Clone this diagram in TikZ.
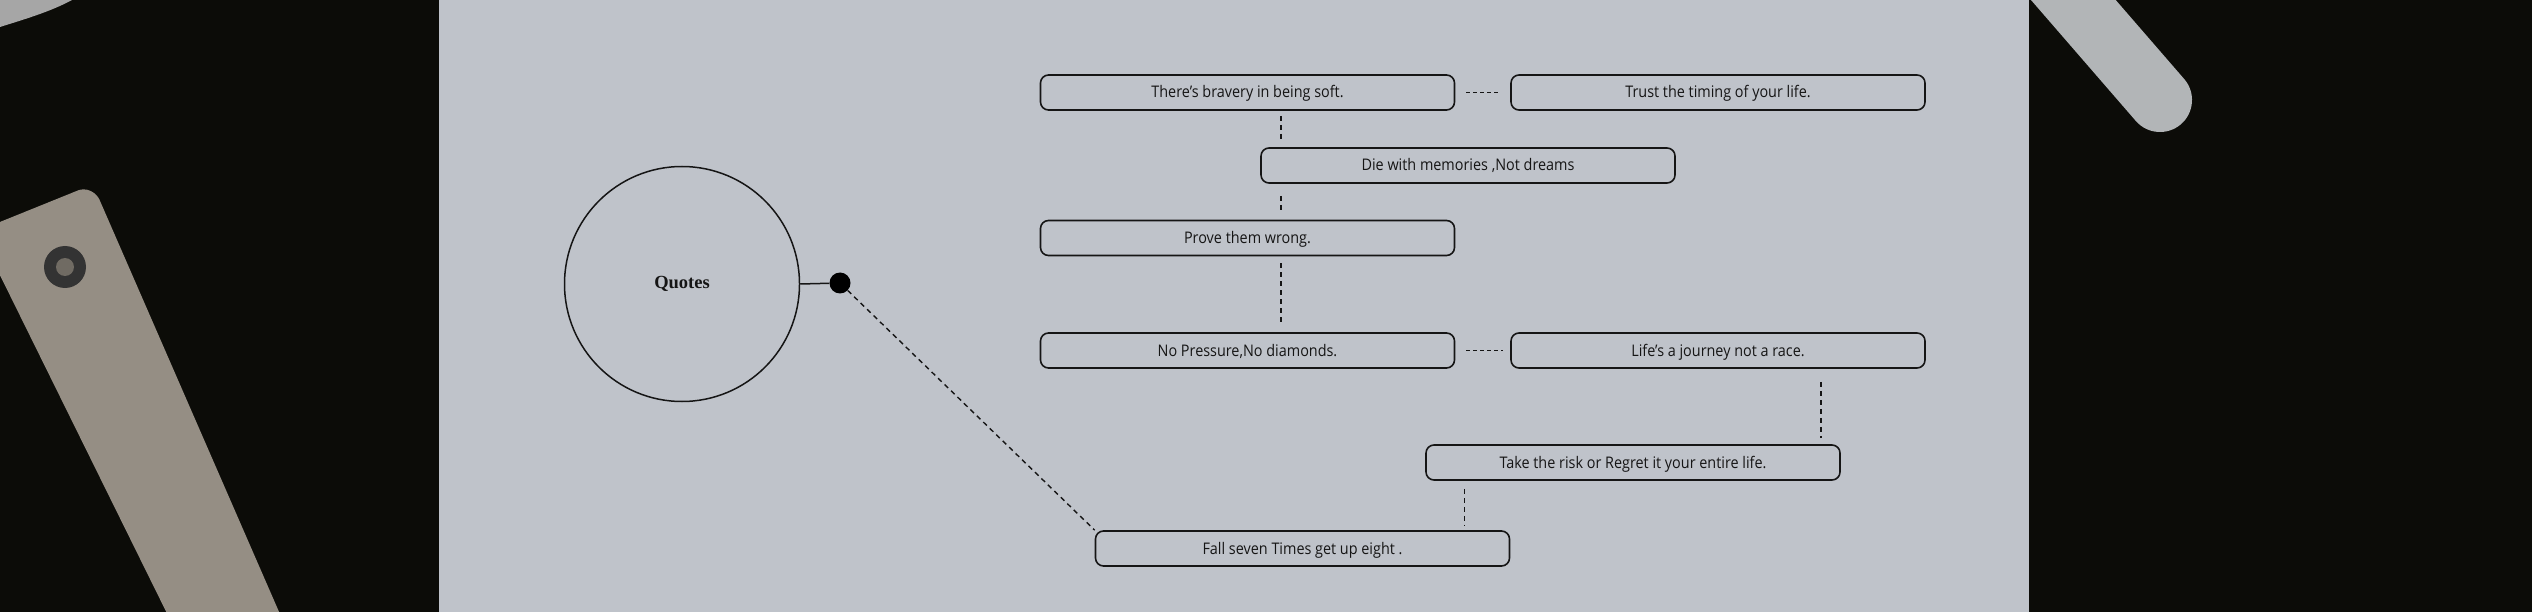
\documentclass[tikz,border=0pt]{standalone}
\usepackage{fontspec}
\setmainfont{Open Sans}[FakeStretch=0.9]
\newfontfamily\quotefont{Liberation Serif}
\usetikzlibrary{calc}
\definecolor{desk}{HTML}{0C0C08}
\definecolor{paper}{HTML}{BFC3CA}
\definecolor{rulerc}{HTML}{958E84}
\definecolor{penc}{HTML}{B2B5B7}
\definecolor{ink}{HTML}{151515}
\tikzset{
  qbox/.style={draw=ink, line width=1.6pt, rounded corners=8pt, minimum width=414pt,
    minimum height=35pt, inner sep=0pt, text=ink, text height=15pt, text depth=4pt,
    font=\fontsize{16}{19}\selectfont},
  vconn/.style={draw=ink, line width=1.5pt, dash pattern=on 5pt off 4pt},
  hconn/.style={draw=ink, line width=1.5pt, dash pattern=on 4pt off 3pt},
  dconn/.style={draw=ink, line width=1.4pt, dash pattern=on 5pt off 4pt},
}
\begin{document}
\begin{tikzpicture}[x=1pt,y=-1pt]
\useasboundingbox (0,0) rectangle (2532,612);
% background photo elements
\fill[desk] (0,0) rectangle (2532,612);
\fill[gray!70!white] (0,0) -- (72,0) .. controls (50,12) and (22,20) .. (0,27) -- cycle;
\fill[rulerc, rounded corners=6pt] (-10,226) -- (84,188) -- (97,194) -- (300,660) -- (190,660) -- (-10,255) -- cycle;
\fill[black!80] (65,267) circle (21);
\fill[rulerc!75!black] (65,267) circle (9);
\fill[paper] (439,0) rectangle (2029,612);
\draw[penc, line width=64pt, line cap=round] (2030,-50) -- (2160,100);
% diagram
\node[circle, draw=ink, line width=1.5pt, minimum size=235pt, inner sep=0pt,
  font=\quotefont\bfseries\fontsize{18.5}{21}\selectfont, text=ink] (q) at (682,284) {Quotes};
\node[circle, fill=black, minimum size=21pt, inner sep=0pt] (dot) at (840,283) {};
\node[qbox] (b1) at (1247.5,92.5) {There’s bravery in being soft.};
\node[qbox] (b2) at (1718,92.5) {Trust the timing of your life.};
\node[qbox] (b3) at (1468,165.5) {Die with memories ,Not dreams};
\node[qbox] (b4) at (1247.5,238) {Prove them wrong.};
\node[qbox] (b5) at (1247.5,350.5) {No Pressure,No diamonds.};
\node[qbox] (b6) at (1718,350.5) {Life’s a journey not a race.};
\node[qbox] (b7) at (1633,462.5) {Take the risk or Regret it your entire life.};
\node[qbox] (b8) at (1302.5,548.5) {Fall seven Times get up eight .};
% connectors
\draw[draw=ink, line width=1.5pt] (q.east) -- (dot);
\draw[dconn] (dot) -- (b8.north west);
\draw[hconn, shorten <=11pt, shorten >=11pt] (b1.east) -- (b2.west);
\draw[hconn, shorten <=11pt, shorten >=7pt] (b5.east) -- (b6.west);
\draw[vconn, shorten <=5pt, shorten >=8pt] ([xshift=33.5pt]b1.south) -- ([xshift=33.5pt]b1.south |- b3.north);
\draw[vconn, shorten <=12pt, shorten >=6pt] ([xshift=33.5pt]b4.north |- b3.south) -- ([xshift=33.5pt]b4.north);
\draw[vconn, shorten <=7pt, shorten >=6pt] ([xshift=33.5pt]b4.south) -- ([xshift=33.5pt]b5.north);
\draw[vconn, shorten <=13pt, shorten >=6pt] ([xshift=103pt]b6.south) -- ([xshift=103pt]b6.south |- b7.north);
\draw[vconn, shorten <=8pt, shorten >=5pt] ([xshift=162pt]b8.north |- b7.south) -- ([xshift=162pt]b8.north);
\end{tikzpicture}
\end{document}
